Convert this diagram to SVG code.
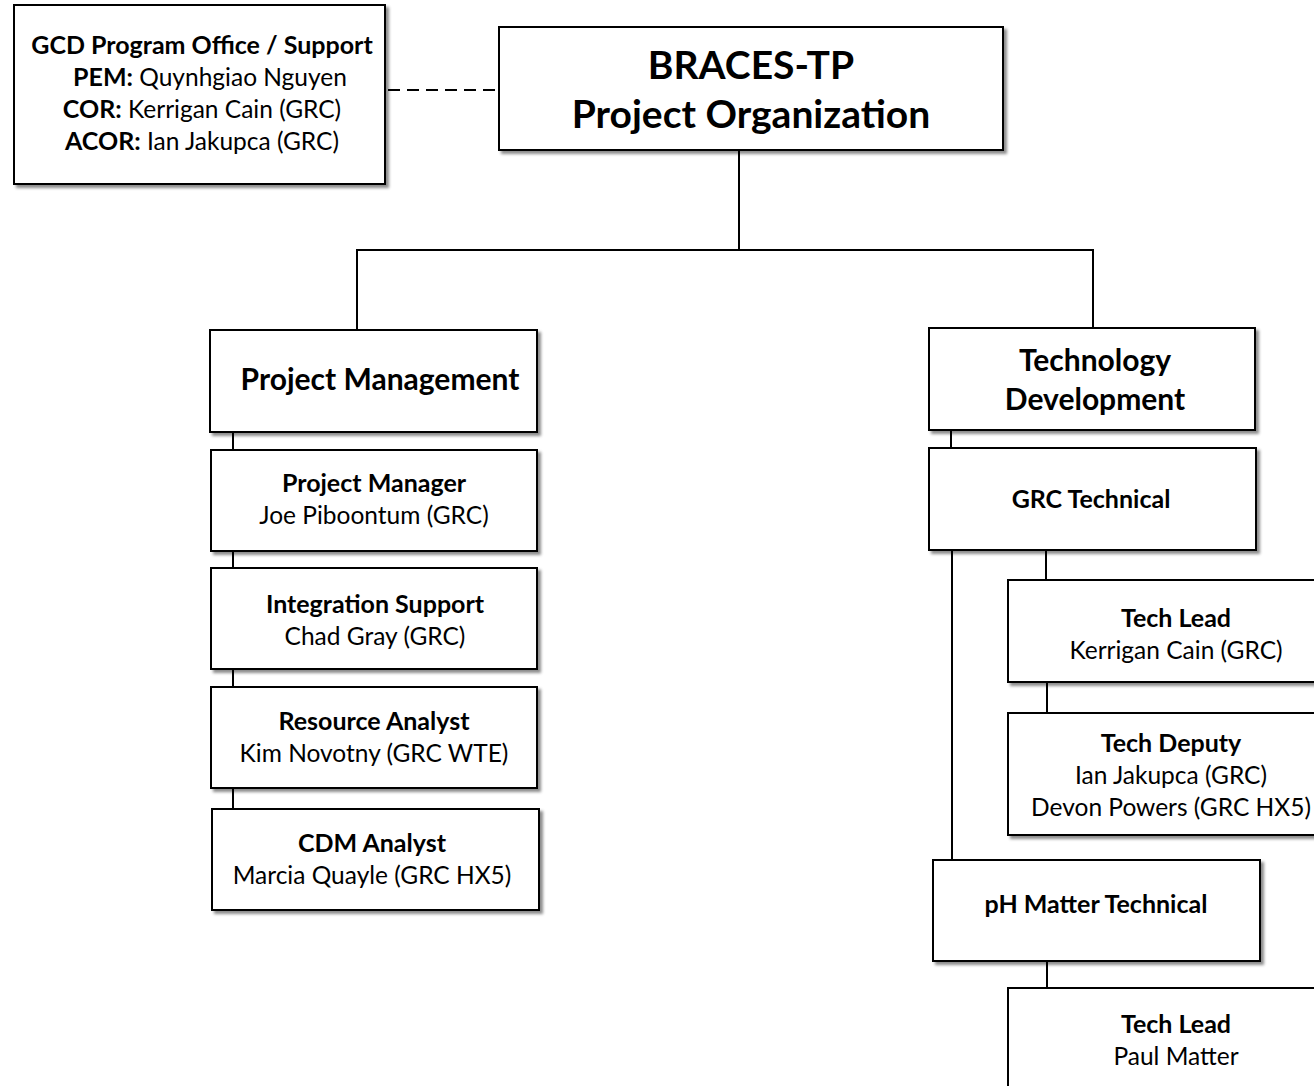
<svg xmlns="http://www.w3.org/2000/svg" width="1314" height="1086" viewBox="0 0 1314 1086">
<defs>
<filter id="sh" x="-10%" y="-10%" width="130%" height="130%">
<feDropShadow dx="3" dy="3" stdDeviation="1.5" flood-color="#000" flood-opacity="0.45"/>
</filter>
</defs>
<style>
.box{fill:#fff;stroke:#000;stroke-width:2;filter:url(#sh)}
.ln{stroke:#000;stroke-width:2;fill:none}
text{font-family:Lato,"Open Sans",sans-serif;fill:#000;text-anchor:middle}
.b{font-weight:bold}
.t22{font-size:24.5px}
.t22.b,.t22 .b{font-size:25px}
.t26{font-size:30px}
.t36{font-size:39px;font-weight:bold}
</style>
<rect width="1314" height="1086" fill="#fff"/>
<g id="connectors">
<line class="ln" x1="388" y1="90" x2="497" y2="90" stroke-dasharray="12,7"/>
<line class="ln" x1="739" y1="150" x2="739" y2="250"/>
<line class="ln" x1="356" y1="250" x2="1094" y2="250"/>
<line class="ln" x1="357" y1="250" x2="357" y2="330"/>
<line class="ln" x1="1093" y1="250" x2="1093" y2="328"/>
<line class="ln" x1="233" y1="432" x2="233" y2="810"/>
<line class="ln" x1="951" y1="430" x2="951" y2="448"/>
<line class="ln" x1="952" y1="550" x2="952" y2="860"/>
<line class="ln" x1="1046" y1="550" x2="1046" y2="580"/>
<line class="ln" x1="1047" y1="682" x2="1047" y2="713"/>
<line class="ln" x1="1047" y1="961" x2="1047" y2="988"/>
</g>
<g id="gcd">
<rect class="box" x="14" y="5" width="371" height="179"/>
<text class="t22 b" x="202" y="54">GCD Program Office / Support</text>
<text class="t22" x="210" y="86"><tspan class="b">PEM:</tspan> Quynhgiao Nguyen</text>
<text class="t22" x="202" y="118"><tspan class="b">COR:</tspan> Kerrigan Cain (GRC)</text>
<text class="t22" x="202" y="150"><tspan class="b">ACOR:</tspan> Ian Jakupca (GRC)</text>
</g>
<g id="braces">
<rect class="box" x="499" y="27" width="504" height="123"/>
<text class="t36" x="751" y="79">BRACES-TP</text>
<text class="t36" x="751" y="128">Project Organization</text>
</g>
<g id="pm">
<rect class="box" x="210" y="330" width="327" height="102"/>
<text class="t26 b" x="380" y="390">Project Management</text>
</g>
<g id="pmgr">
<rect class="box" x="211" y="450" width="326" height="101"/>
<text class="t22 b" x="374" y="492">Project Manager</text>
<text class="t22" x="374" y="524">Joe Piboontum (GRC)</text>
</g>
<g id="integ">
<rect class="box" x="211" y="568" width="326" height="101"/>
<text class="t22 b" x="375" y="613">Integration Support</text>
<text class="t22" x="375" y="645">Chad Gray (GRC)</text>
</g>
<g id="res">
<rect class="box" x="211" y="687" width="326" height="101"/>
<text class="t22 b" x="374" y="730">Resource Analyst</text>
<text class="t22" x="374" y="762">Kim Novotny (GRC WTE)</text>
</g>
<g id="cdm">
<rect class="box" x="212" y="809" width="327" height="101"/>
<text class="t22 b" x="372" y="852">CDM Analyst</text>
<text class="t22" x="372" y="884">Marcia Quayle (GRC HX5)</text>
</g>
<g id="tech">
<rect class="box" x="929" y="328" width="326" height="102"/>
<text class="t26 b" x="1095" y="371">Technology</text>
<text class="t26 b" x="1095" y="410">Development</text>
</g>
<g id="grc">
<rect class="box" x="929" y="448" width="327" height="102"/>
<text class="t22 b" x="1091" y="508">GRC Technical</text>
</g>
<g id="lead1">
<rect class="box" x="1008" y="580" width="330" height="102"/>
<text class="t22 b" x="1176" y="627">Tech Lead</text>
<text class="t22" x="1176" y="659">Kerrigan Cain (GRC)</text>
</g>
<g id="deputy">
<rect class="box" x="1008" y="713" width="330" height="122"/>
<text class="t22 b" x="1171" y="752">Tech Deputy</text>
<text class="t22" x="1171" y="784">Ian Jakupca (GRC)</text>
<text class="t22" x="1171" y="816">Devon Powers (GRC HX5)</text>
</g>
<g id="ph">
<rect class="box" x="933" y="860" width="327" height="101"/>
<text class="t22 b" x="1096" y="913">pH Matter Technical</text>
</g>
<g id="lead2">
<rect class="box" x="1008" y="988" width="330" height="120"/>
<text class="t22 b" x="1176" y="1033">Tech Lead</text>
<text class="t22" x="1176" y="1065">Paul Matter</text>
</g>
</svg>
